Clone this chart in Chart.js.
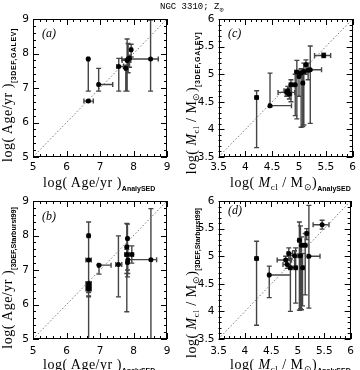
<!DOCTYPE html>
<html>
<head>
<meta charset="utf-8">
<script src="https://cdn.jsdelivr.net/npm/chart.js@4.4.1/dist/chart.umd.min.js"></script>
<style>
  body { margin: 0; background: #fff; }
  #page { position: relative; width: 360px; height: 370px; overflow: hidden; background: #fff; }
  canvas { position: absolute; }
  .lbl { position: absolute; white-space: nowrap; font-family: "Liberation Serif", serif; font-size: 14px; line-height: 14px; letter-spacing: 0.5px; color: #000; }
  .ylbl { transform: translate(-50%, -50%) rotate(-90deg); }
  .sub { font-family: "Liberation Sans", sans-serif; font-weight: bold; font-size: 7px; letter-spacing: 0; position: relative; top: 4px; }
  .ysub { letter-spacing: 0.6px; }
  .sm { font-size: 9px; position: relative; top: 3px; }
  .tag { position: absolute; font-family: "Liberation Serif", serif; font-style: italic; font-size: 12px; line-height: 12px; }
  .title { position: absolute; font-family: "Liberation Mono", monospace; font-size: 9px; line-height: 9px; white-space: nowrap; }
</style>
</head>
<body>
<div id="page">
  <canvas id="cA" width="180" height="185" style="left:0;top:0"></canvas>
  <canvas id="cC" width="180" height="185" style="left:180px;top:0"></canvas>
  <canvas id="cB" width="180" height="185" style="left:0;top:185px"></canvas>
  <canvas id="cD" width="180" height="185" style="left:180px;top:185px"></canvas>

  <div class="title" style="left:160px;top:3px">NGC 3310; Z<span class="sm" style="font-size:7px">⊙</span></div>

  <div class="tag" style="left:42px;top:27px">(a)</div>
  <div class="tag" style="left:228px;top:27px">(c)</div>
  <div class="tag" style="left:42px;top:210px">(b)</div>
  <div class="tag" style="left:228px;top:204px">(d)</div>

  <div class="lbl" style="left:43px;top:176px">log( Age/yr )<span class="sub">AnalySED</span></div>
  <div class="lbl" style="left:230px;top:176px">log( <i>M</i><span class="sm">cl</span> / M<span class="sm">⊙</span>)<span class="sub">AnalySED</span></div>
  <div class="lbl" style="left:43px;top:358px">log( Age/yr )<span class="sub">AnalySED</span></div>
  <div class="lbl" style="left:230px;top:358px">log( <i>M</i><span class="sm">cl</span> / M<span class="sm">⊙</span>)<span class="sub">AnalySED</span></div>

  <div class="lbl ylbl" style="left:9px;top:95px">log( Age/yr )<span class="sub ysub">[3DEF,GALEV]</span></div>
  <div class="lbl ylbl" style="left:193px;top:103px">log( <i>M</i><span class="sm">cl</span> / M<span class="sm">⊙</span>)<span class="sub ysub">[3DEF,GALEV]</span></div>
  <div class="lbl ylbl" style="left:9px;top:278px">log( Age/yr )<span class="sub">[3DEF,Starburst99]</span></div>
  <div class="lbl ylbl" style="left:193px;top:283px">log( <i>M</i><span class="sm">cl</span> / M<span class="sm">⊙</span>)<span class="sub">[3DEF,Starburst99]</span></div>
</div>

<script>
// axis ranges and tick labels
const ageTicks = [5, 6, 7, 8, 9];
const massTicks = [3.5, 4, 4.5, 5, 5.5, 6];

// (a) age, GALEV vs AnalySED
const aX   = [6.65, 6.65, 6.96, 7.56, 7.77, 7.81, 7.84, 7.88, 7.93, 8.51];
const aY   = [6.62, 7.84, 7.10, 7.62, 7.57, 7.80, 7.84, 7.86, 8.11, 7.84];
const aXlo = [6.52, 6.62, 6.93, 7.50, 7.74, 7.66, 7.80, 7.85, 7.90, 7.65];
const aXhi = [6.80, 6.68, 7.38, 7.70, 7.80, 7.92, 7.88, 7.91, 7.96, 8.74];
const aYlo = [6.59, 6.91, 6.91, 6.91, 6.91, 6.91, 7.44, 7.60, 7.90, 6.91];
const aYhi = [6.65, 7.86, 7.57, 7.86, 7.66, 8.42, 8.29, 7.95, 8.27, 8.97];

// (b) age, Starburst99 vs AnalySED
const bX   = [6.66, 6.66, 6.66, 6.66, 6.66, 6.66, 6.97, 7.55, 7.80, 7.82, 7.80, 7.83, 7.82, 7.95, 8.52];
const bY   = [7.99, 7.29, 6.61, 6.54, 6.49, 6.45, 7.14, 7.16, 7.67, 7.91, 7.45, 7.29, 7.22, 7.45, 7.30];
const bXlo = [6.62, 6.58, 6.58, 6.58, 6.58, 6.58, 6.94, 7.47, 7.76, 7.79, 7.74, 7.80, 7.79, 7.88, 7.85];
const bXhi = [6.70, 6.74, 6.74, 6.74, 6.74, 6.74, 7.33, 7.65, 7.84, 7.85, 7.86, 7.86, 7.85, 8.00, 8.69];
const bYlo = [5.00, 6.25, 6.45, 6.40, 6.35, 6.22, 6.88, 6.22, 5.79, 6.80, 6.90, 6.90, 7.00, 7.20, 5.00];
const bYhi = [8.39, 7.32, 6.65, 6.60, 6.55, 6.50, 7.16, 7.99, 8.35, 8.33, 7.60, 7.70, 7.40, 7.70, 8.78];

// (c) mass, GALEV vs AnalySED
const cX   = [4.21, 4.46, 4.77, 4.82, 4.79, 4.85, 4.93, 4.96, 5.00, 5.04, 5.07, 5.09, 5.13, 5.17, 5.21, 5.46];
const cY   = [4.58, 4.43, 4.67, 4.64, 4.70, 4.81, 4.81, 5.04, 4.96, 5.02, 4.84, 5.05, 5.17, 5.07, 5.08, 5.34];
const cXlo = [4.18, 4.44, 4.61, 4.78, 4.72, 4.82, 4.90, 4.92, 4.97, 5.01, 5.04, 5.06, 5.10, 5.14, 5.18, 5.29];
const cXhi = [4.24, 4.86, 4.92, 4.86, 4.86, 4.88, 4.96, 5.00, 5.03, 5.07, 5.10, 5.12, 5.16, 5.20, 5.42, 5.59];
const cYlo = [3.67, 4.41, 4.60, 4.55, 4.62, 4.50, 4.25, 4.19, 4.60, 4.04, 4.05, 4.08, 5.00, 4.90, 4.11, 5.30];
const cYhi = [4.70, 5.02, 4.72, 4.75, 4.78, 4.90, 5.00, 5.25, 5.05, 5.10, 5.00, 5.20, 5.26, 5.20, 5.51, 5.38];

// (d) mass, Starburst99 vs AnalySED
const dX   = [4.22, 4.46, 4.77, 4.80, 4.83, 4.86, 4.94, 4.96, 5.03, 5.05, 5.07, 5.09, 5.14, 5.17, 5.21, 5.46];
const dY   = [4.96, 4.66, 4.93, 4.85, 5.05, 4.79, 5.01, 4.79, 5.29, 5.01, 5.20, 4.79, 5.20, 5.41, 5.00, 5.57];
const dXlo = [4.19, 4.44, 4.61, 4.72, 4.80, 4.83, 4.86, 4.93, 5.00, 5.02, 5.04, 5.06, 5.11, 5.14, 5.18, 5.29];
const dXhi = [4.25, 4.86, 4.88, 4.86, 4.90, 4.89, 5.00, 4.99, 5.06, 5.08, 5.10, 5.12, 5.17, 5.20, 5.42, 5.59];
const dYlo = [3.75, 4.25, 4.85, 4.78, 4.95, 4.00, 4.80, 4.15, 4.02, 4.05, 4.03, 4.10, 4.30, 5.30, 4.06, 5.49];
const dYhi = [5.27, 4.82, 5.00, 4.92, 5.15, 4.95, 5.10, 5.15, 5.62, 5.55, 5.35, 5.05, 5.41, 5.50, 5.92, 5.65];

// box with inward ticks on all four sides
function frameTicks(min, max, major, minor) {
  return {
    id: "frameTicks",
    afterDraw(chart) {
      const { ctx, chartArea: a, scales } = chart;
      const n = Math.round((max - min) / minor);
      ctx.save();
      ctx.strokeStyle = "#000";
      ctx.lineWidth = 1;
      ctx.beginPath();
      for (let i = 0; i <= n; i++) {
        const v = min + i * minor;
        const r = (v - min) / major;
        const len = Math.abs(r - Math.round(r)) < 1e-6 ? 6 : 3;
        const px = Math.round(scales.x.getPixelForValue(v)) + 0.5;
        const py = Math.round(scales.y.getPixelForValue(v)) + 0.5;
        ctx.moveTo(px, a.bottom); ctx.lineTo(px, a.bottom - len);
        ctx.moveTo(px, a.top); ctx.lineTo(px, a.top + len);
        ctx.moveTo(a.left, py); ctx.lineTo(a.left + len, py);
        ctx.moveTo(a.right, py); ctx.lineTo(a.right - len, py);
      }
      ctx.stroke();
      ctx.strokeRect(Math.round(a.left) + 0.5, Math.round(a.top) + 0.5,
        Math.round(a.right - a.left) - 1, Math.round(a.bottom - a.top) - 1);
      ctx.restore();
    },
  };
}

function errBars(xs, ys, xlo, xhi, ylo, yhi) {
  return {
    id: "errBars",
    beforeDatasetsDraw(chart) {
      const { ctx, chartArea: a, scales } = chart;
      const X = (v) => scales.x.getPixelForValue(v);
      const Y = (v) => scales.y.getPixelForValue(v);
      ctx.save();
      ctx.beginPath();
      ctx.rect(a.left, a.top, a.right - a.left, a.bottom - a.top);
      ctx.clip();
      ctx.strokeStyle = "#444";
      ctx.lineWidth = 1.4;
      ctx.beginPath();
      xs.forEach((x, i) => {
        const px = X(x), py = Y(ys[i]);
        const y1 = Y(ylo[i]), y2 = Y(yhi[i]);
        const x1 = X(xlo[i]), x2 = X(xhi[i]);
        // vertical bar + caps
        ctx.moveTo(px, y1); ctx.lineTo(px, y2);
        ctx.moveTo(px - 2.5, y1); ctx.lineTo(px + 2.5, y1);
        ctx.moveTo(px - 2.5, y2); ctx.lineTo(px + 2.5, y2);
        // horizontal bar + caps
        ctx.moveTo(x1, py); ctx.lineTo(x2, py);
        ctx.moveTo(x1, py - 2.5); ctx.lineTo(x1, py + 2.5);
        ctx.moveTo(x2, py - 2.5); ctx.lineTo(x2, py + 2.5);
      });
      ctx.stroke();
      ctx.restore();
    },
  };
}

function makePanel(id, xs, ys, xlo, xhi, ylo, yhi, ticks, minor, lay) {
  const min = ticks[0];
  const max = ticks[ticks.length - 1];
  const major = ticks[1] - ticks[0];
  const tickFont = { family: "DejaVu Sans", size: 10.5 };
  return new Chart(document.getElementById(id), {
    type: "scatter",
    data: {
      datasets: [
        {
          data: xs.map((x, i) => ({ x: x, y: ys[i] })),
          pointRadius: 2.5,
          pointStyle: "circle",
          backgroundColor: "#000",
          borderWidth: 0,
        },
        {
          // one-to-one line
          data: [{ x: min, y: min }, { x: max, y: max }],
          showLine: true,
          borderColor: "#777",
          borderWidth: 1,
          borderDash: [1.5, 2],
          pointRadius: 0,
        },
      ],
    },
    options: {
      responsive: false,
      animation: false,
      devicePixelRatio: 1,
      layout: { padding: { top: lay.top, right: lay.right, left: 0, bottom: 0 } },
      plugins: {
        legend: { display: false },
        tooltip: { enabled: false },
      },
      scales: {
        x: {
          type: "linear",
          min: min,
          max: max,
          grid: { display: false, drawTicks: false },
          border: { display: false },
          ticks: { stepSize: major, color: "#000", font: tickFont, padding: lay.xpad, callback: (v) => String(v) },
          afterFit: (s) => { s.height = lay.xh; },
        },
        y: {
          type: "linear",
          min: min,
          max: max,
          grid: { display: false, drawTicks: false },
          border: { display: false },
          ticks: { stepSize: major, color: "#000", font: tickFont, padding: 4, callback: (v) => String(v) },
          afterFit: (s) => { s.width = lay.yw; },
        },
      },
    },
    plugins: [errBars(xs, ys, xlo, xhi, ylo, yhi), frameTicks(min, max, major, minor)],
  });
}

makePanel("cA", aX, aY, aXlo, aXhi, aYlo, aYhi, ageTicks, 0.2, { top: 19, right: 13, yw: 33, xh: 28, xpad: 4 });
makePanel("cC", cX, cY, cXlo, cXhi, cYlo, cYhi, massTicks, 0.1, { top: 19, right: 7, yw: 38.5, xh: 28, xpad: 4 });
makePanel("cB", bX, bY, bXlo, bXhi, bYlo, bYhi, ageTicks, 0.2, { top: 16, right: 13, yw: 33, xh: 31, xpad: 6 });
makePanel("cD", dX, dY, dXlo, dXhi, dYlo, dYhi, massTicks, 0.1, { top: 16, right: 7, yw: 38.5, xh: 31, xpad: 6 });
</script>
</body>
</html>
